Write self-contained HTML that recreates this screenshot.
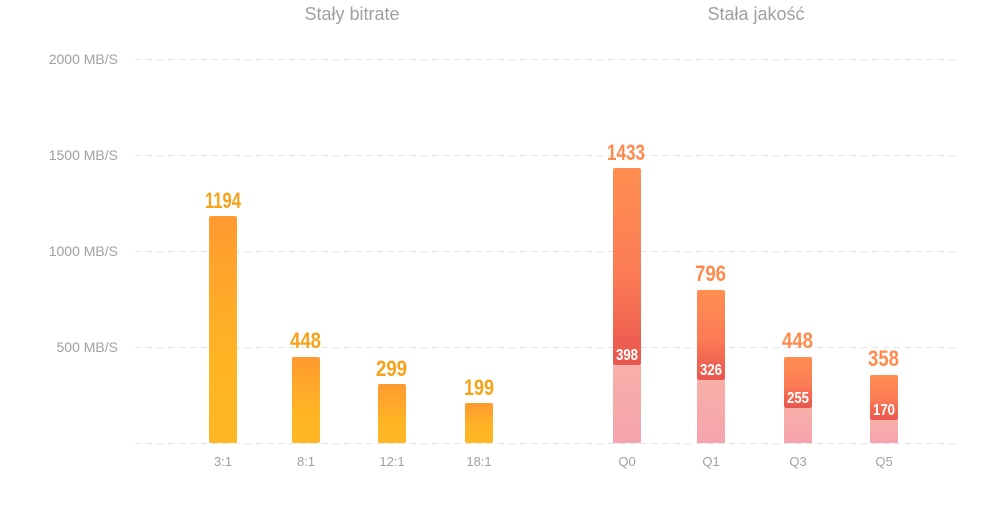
<!DOCTYPE html>
<html><head><meta charset="utf-8"><style>
body{margin:0;background:#fff;}
svg{display:block;font-family:"Liberation Sans",sans-serif;}
.n{font-family:"Liberation Sans",sans-serif;font-weight:bold;}
</style></head><body>
<svg width="1000" height="522" viewBox="0 0 1000 522">
<defs>
<linearGradient id="y" x1="0" y1="0" x2="0" y2="1"><stop offset="0" stop-color="#ff9a30"/><stop offset="0.6" stop-color="#ffb325"/><stop offset="1" stop-color="#ffb824"/></linearGradient>
<linearGradient id="o" x1="0" y1="0" x2="0" y2="1"><stop offset="0" stop-color="#ff8f50"/><stop offset="0.55" stop-color="#fb7b55"/><stop offset="1" stop-color="#e8554e"/></linearGradient>
<linearGradient id="p" x1="0" y1="0" x2="0" y2="1"><stop offset="0" stop-color="#f7b0a8"/><stop offset="1" stop-color="#f5a3ad"/></linearGradient>
</defs>
<g stroke="#e4e4e4" stroke-dasharray="6,5" stroke-width="1">
<line x1="135" y1="59.5" x2="960" y2="59.5"/><line x1="135" y1="155.5" x2="960" y2="155.5"/><line x1="135" y1="251.5" x2="960" y2="251.5"/><line x1="135" y1="347.5" x2="960" y2="347.5"/><line x1="135" y1="443.5" x2="960" y2="443.5"/>
</g>
<g fill="#a0a0a0" font-size="14" text-anchor="end">
<text x="118" y="64">2000 MB/S</text><text x="118" y="160">1500 MB/S</text><text x="118" y="256">1000 MB/S</text><text x="118" y="352">500 MB/S</text>
</g>
<g fill="#a0a0a0" font-size="18" text-anchor="middle">
<text x="352" y="20">Stały bitrate</text><text x="756" y="20">Stała jakość</text>
</g>
<g fill="#a0a0a0" font-size="13" text-anchor="middle">
<text x="223" y="466">3:1</text><text x="306" y="466">8:1</text><text x="392" y="466">12:1</text><text x="479" y="466">18:1</text>
<text x="627" y="466">Q0</text><text x="711" y="466">Q1</text><text x="798" y="466">Q3</text><text x="884" y="466">Q5</text>
</g>
<g fill="url(#y)">
<rect x="209" y="216" width="28" height="227" rx="2"/><rect x="292" y="357" width="28" height="86" rx="2"/><rect x="378" y="384" width="28" height="59" rx="2"/><rect x="465" y="403" width="28" height="40" rx="2"/>
</g>
<g fill="url(#o)">
<rect x="613" y="168" width="28" height="197" rx="2"/><rect x="697" y="290" width="28" height="90" rx="2"/><rect x="784" y="357" width="28" height="51" rx="2"/><rect x="870" y="375" width="28" height="45" rx="2"/>
</g>
<g fill="url(#p)">
<rect x="613" y="365" width="28" height="78"/><rect x="697" y="380" width="28" height="63"/><rect x="784" y="408" width="28" height="35"/><rect x="870" y="420" width="28" height="23"/>
</g>
<g class="n" font-size="22" fill="#f8a21a" lengthAdjust="spacingAndGlyphs">
<text x="205" y="208" textLength="36" lengthAdjust="spacingAndGlyphs">1194</text>
<text x="290" y="348" textLength="31" lengthAdjust="spacingAndGlyphs">448</text>
<text x="376" y="376" textLength="31" lengthAdjust="spacingAndGlyphs">299</text>
<text x="464" y="395" textLength="30" lengthAdjust="spacingAndGlyphs">199</text>
</g>
<g class="n" font-size="22" fill="#ff8a4c">
<text x="607" y="160" textLength="38" lengthAdjust="spacingAndGlyphs">1433</text>
<text x="695" y="281" textLength="31" lengthAdjust="spacingAndGlyphs">796</text>
<text x="782" y="348" textLength="31" lengthAdjust="spacingAndGlyphs">448</text>
<text x="868" y="366" textLength="31" lengthAdjust="spacingAndGlyphs">358</text>
</g>
<g class="n" font-size="16" fill="#fff">
<text x="616" y="360" textLength="22" lengthAdjust="spacingAndGlyphs">398</text>
<text x="700" y="375" textLength="22" lengthAdjust="spacingAndGlyphs">326</text>
<text x="787" y="403" textLength="22" lengthAdjust="spacingAndGlyphs">255</text>
<text x="873" y="415" textLength="22" lengthAdjust="spacingAndGlyphs">170</text>
</g>
</svg>
</body></html>
